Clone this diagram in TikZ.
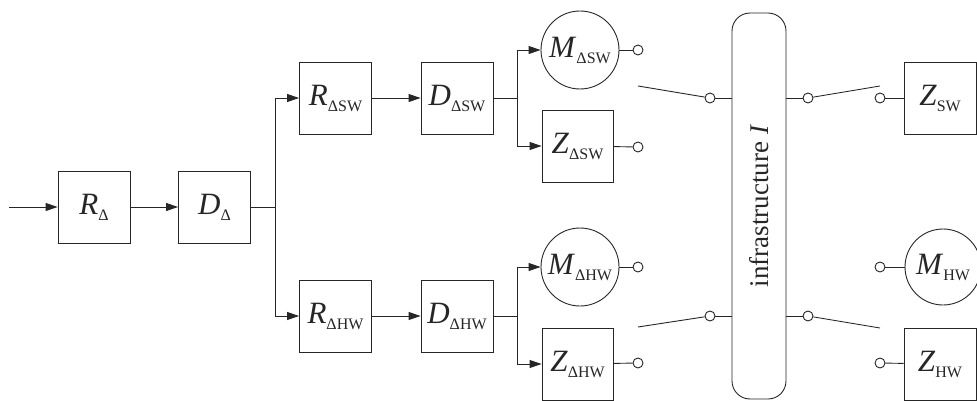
\documentclass[tikz,border=0pt]{standalone}
\usepackage{fontspec}
\setmainfont{Liberation Serif}
\usetikzlibrary{arrows.meta}
\newcommand\lbl[2]{\textit{#1}\raisebox{-6pt}{\fontsize{16}{16}\selectfont #2}}
\begin{document}
\begin{tikzpicture}[x=1pt,y=-1pt, line width=0.9pt, color={black!85},
  blk/.style={draw, minimum width=72pt, minimum height=72pt, inner sep=0pt, font=\fontsize{31}{32}\selectfont},
  circ/.style={draw, circle, minimum size=78pt, inner sep=0pt, font=\fontsize{31}{32}\selectfont},
  term/.style={draw, circle, minimum size=10pt, inner sep=0pt, fill=white},
  arr/.style={-{Triangle[length=12pt,width=8pt]}}]
\useasboundingbox (0,0) rectangle (977,401);
% left chain
\coordinate (in) at (9,207);
\node[blk] (RD) at (94,207) {\lbl{R}{Δ}};
\node[blk] (DD) at (214.5,207) {\lbl{D}{Δ}};
\coordinate (j0) at (275,207);
\draw[arr] (in) -- (RD);
\draw[arr] (RD) -- (DD);
\draw (DD) -- (j0);
% SW branch
\node[blk] (RSW) at (335.5,98) {\lbl{R}{ΔSW}};
\node[blk] (DSW) at (457,98) {\lbl{D}{ΔSW}};
\coordinate (j1) at (517,98);
\node[circ] (MSW) at (580,50) {\lbl{M}{ΔSW}};
\node[blk, minimum width=71pt] (ZSW) at (577.5,146) {\lbl{Z}{ΔSW}};
\draw[arr] (j0) |- (RSW);
\draw[arr] (RSW) -- (DSW);
\draw (DSW) -- (j1);
\draw[arr] (j1) |- (MSW);
\draw[arr] (j1) |- (ZSW);
% HW branch
\node[blk] (RHW) at (335.5,316) {\lbl{R}{ΔHW}};
\node[blk] (DHW) at (457,316) {\lbl{D}{ΔHW}};
\coordinate (j2) at (517,316);
\node[circ] (MHW) at (580,267) {\lbl{M}{ΔHW}};
\node[blk, minimum width=71pt] (ZHW) at (577.5,364) {\lbl{Z}{ΔHW}};
\draw[arr] (j0) |- (RHW);
\draw[arr] (RHW) -- (DHW);
\draw (DHW) -- (j2);
\draw[arr] (j2) |- (MHW);
\draw[arr] (j2) |- (ZHW);
% infrastructure
\node[draw, rounded corners=18pt, minimum width=54pt, minimum height=386pt, inner sep=0pt,
      font=\fontsize{27}{28}\selectfont] (I) at (759,206) {\rotatebox{90}{infrastructure \textit{I}}};
% left terminals
\node[term] (tM1) at (638,50) {};
\node[term] (tZ1) at (638,147) {};
\node[term] (tM2) at (638,267) {};
\node[term] (tZ2) at (638,363) {};
\draw (MSW) -- (tM1);
\draw (ZSW) -- (tZ1);
\draw (MHW) -- (tM2);
\draw (ZHW) -- (tZ2);
% switches left
\coordinate (a1) at (638,86);
\node[term] (s1) at (710,98) {};
\coordinate (a2) at (638,327);
\node[term] (s3) at (710,316) {};
\draw (a1) -- (s1);
\draw (s1) -- (I.west |- s1);
\draw (a2) -- (s3);
\draw (s3) -- (I.west |- s3);
% switches right
\node[term] (s2) at (808,98) {};
\node[term] (s4) at (808,316) {};
\coordinate (b1) at (880,86);
\coordinate (b2) at (880,328);
\draw (I.east |- s2) -- (s2);
\draw (s2) -- (b1);
\draw (I.east |- s4) -- (s4);
\draw (s4) -- (b2);
% right side
\node[blk] (ZS) at (940,98) {\lbl{Z}{SW}};
\node[circ, minimum size=76pt] (MH) at (943,267) {\lbl{M}{HW}};
\node[blk] (ZH) at (940,364) {\lbl{Z}{HW}};
\node[term] (r1) at (880,98) {};
\node[term] (r2) at (880,267) {};
\node[term] (r3) at (880,363) {};
\draw (r1) -- (ZS);
\draw (r2) -- (MH);
\draw (r3) -- (ZH);
\end{tikzpicture}
\end{document}
